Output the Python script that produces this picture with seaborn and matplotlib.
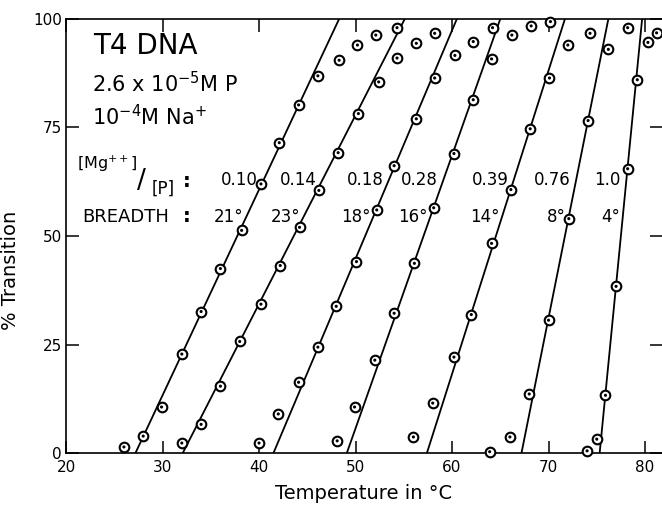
import pandas as pd
import matplotlib
matplotlib.use('Agg')
import matplotlib.pyplot as plt
import seaborn as sns

# [Mg++]/[P] ratio of each melting curve and its transition breadth (deg)
ratios = ['0.10', '0.14', '0.18', '0.28', '0.39', '0.76', '1.0']
breadths = [21, 23, 18, 16, 14, 8, 4]

# fitted straight lines: temperature at 0 % and at 100 % transition
line_t0 = [27.2, 32.1, 41.5, 49.1, 57.4, 67.2, 75.3]
line_t100 = [48.3, 55.1, 60.5, 65.0, 71.7, 76.2, 79.7]

# measured points, temperature (C) and % transition, one pair per curve
temp_010 = [26.0, 28.0, 29.9, 32.0, 34.0, 36.0, 38.2, 40.2, 42.1, 44.1, 46.1, 48.3, 50.2, 52.1, 54.3]
pct_010 = [1.4, 3.9, 10.6, 22.8, 32.6, 42.5, 51.3, 62.0, 71.5, 80.2, 86.9, 90.5, 94.0, 96.3, 98.0]

temp_014 = [32.0, 34.0, 36.0, 38.0, 40.2, 42.2, 44.2, 46.2, 48.2, 50.3, 52.4, 54.3, 56.3, 58.2]
pct_014 = [2.3, 6.6, 15.4, 25.7, 34.3, 43.2, 52.0, 60.5, 69.2, 78.2, 85.5, 91.0, 94.4, 96.7]

temp_018 = [40.0, 42.0, 44.1, 46.1, 48.0, 50.1, 52.2, 54.0, 56.3, 58.2, 60.3, 62.2, 64.2]
pct_018 = [2.3, 9.0, 16.3, 24.4, 33.8, 44.1, 56.0, 66.2, 77.0, 86.4, 91.6, 94.8, 98.0]

temp_028 = [48.1, 49.9, 52.0, 54.0, 56.1, 58.1, 60.2, 62.2, 64.1, 66.2, 68.2, 70.2]
pct_028 = [2.8, 10.6, 21.4, 32.2, 43.7, 56.5, 69.0, 81.4, 90.8, 96.3, 98.4, 99.4]

temp_039 = [56.0, 58.0, 60.2, 62.0, 64.1, 66.1, 68.1, 70.1, 72.0, 74.3]
pct_039 = [3.7, 11.5, 22.1, 31.9, 48.3, 60.7, 74.7, 86.4, 94.0, 96.7]

temp_076 = [63.9, 66.0, 68.0, 70.0, 72.1, 74.1, 76.2, 78.2]
pct_076 = [0.3, 3.7, 13.6, 30.6, 54.0, 76.6, 93.0, 98.0]

temp_100 = [74.0, 75.0, 75.9, 77.0, 78.2, 79.2, 80.3, 81.2]
pct_100 = [0.5, 3.2, 13.3, 38.4, 65.5, 86.0, 94.6, 96.8]

x_ticks = [20, 30, 40, 50, 60, 70, 80]
y_ticks = [0, 25, 50, 75, 100]


def build_frames():
    curves = [
        (temp_010, pct_010), (temp_014, pct_014), (temp_018, pct_018),
        (temp_028, pct_028), (temp_039, pct_039), (temp_076, pct_076),
        (temp_100, pct_100),
    ]
    pts = pd.concat(
        [pd.DataFrame({'ratio': r, 'temp': t, 'pct': p}) for r, (t, p) in zip(ratios, curves)],
        ignore_index=True,
    )
    lines = pd.DataFrame({
        'ratio': ratios + ratios,
        'temp': line_t0 + line_t100,
        'pct': [0] * len(ratios) + [100] * len(ratios),
    })
    return pts, lines


def main():
    sns.set_style('ticks')
    plt.rcParams['font.family'] = ['DejaVu Sans']
    plt.rcParams['mathtext.fontset'] = 'dejavusans'
    for key in ['text.color', 'axes.labelcolor', 'xtick.color', 'ytick.color', 'axes.edgecolor']:
        plt.rcParams[key] = 'black'

    pts, lines = build_frames()

    fig = plt.figure(figsize=(6.62, 5.09), dpi=100)
    ax = fig.add_axes([0.0997, 0.110, 0.9003, 0.8527])

    sns.lineplot(data=lines, x='temp', y='pct', units='ratio', estimator=None,
                 sort=False, color='black', linewidth=1.3, ax=ax)
    sns.scatterplot(data=pts, x='temp', y='pct', s=48, marker='o', facecolor='white',
                    edgecolor='black', linewidth=1.5, zorder=3, clip_on=False, ax=ax)
    sns.scatterplot(data=pts, x='temp', y='pct', s=5, marker='o', color='black',
                    edgecolor='none', zorder=4, clip_on=False, ax=ax)

    ax.set_xlim(20, 81.76)
    ax.set_ylim(0, 100)
    ax.set_xticks(x_ticks)
    ax.set_yticks(y_ticks)
    ax.tick_params(direction='in', length=9, width=1.1, top=True, right=True,
                   labelsize=11)
    ax.tick_params(axis='x', pad=5)
    ax.tick_params(axis='y', pad=3)
    for side in ['left', 'bottom', 'top']:
        ax.spines[side].set_linewidth(1.2)
    ax.spines['right'].set_visible(False)

    ax.set_xlabel('Temperature in \u00b0C', fontsize=14)
    ax.set_ylabel('% Transition', fontsize=14)
    ax.xaxis.set_label_coords(0.50, -0.072)
    ax.yaxis.set_label_coords(-0.077, 0.42)

    # sample description, upper left
    ax.text(22.8, 93.8, 'T4 DNA', fontsize=20, va='center', ha='left')
    ax.text(22.7, 85.0, '2.6 x 10$^{-5}$M P', fontsize=15, va='center', ha='left')
    ax.text(22.7, 77.4, '10$^{-4}$M Na$^{+}$', fontsize=15, va='center', ha='left')

    # row headers
    ax.text(21.1, 66.6, '[Mg$^{++}$]', fontsize=11.5, va='center', ha='left')
    ax.text(27.8, 62.7, '/', fontsize=19, va='center', ha='center')
    ax.text(28.9, 61.0, '[P]', fontsize=12, va='center', ha='left')
    ax.text(32.5, 62.5, ':', fontsize=14, va='center', ha='center', fontweight='bold')
    ax.text(21.7, 54.4, 'BREADTH', fontsize=13, va='center', ha='left')
    ax.text(32.5, 54.4, ':', fontsize=14, va='center', ha='center', fontweight='bold')

    # labels sit just left of each fitted line
    for r, b, t0, t100 in zip(ratios, breadths, line_t0, line_t100):
        y_r, y_b = 63.0, 54.4
        ax.annotate(r, (t0 + (t100 - t0) * y_r / 100, y_r), xytext=(-4, 0),
                    textcoords='offset points', ha='right', va='center', fontsize=12)
        ax.annotate(f'{b}\u00b0', (t0 + (t100 - t0) * y_b / 100, y_b), xytext=(-2, 0),
                    textcoords='offset points', ha='right', va='center', fontsize=12)

    fig.savefig('out.png', dpi=100)
    plt.close(fig)


if __name__ == '__main__':
    main()
